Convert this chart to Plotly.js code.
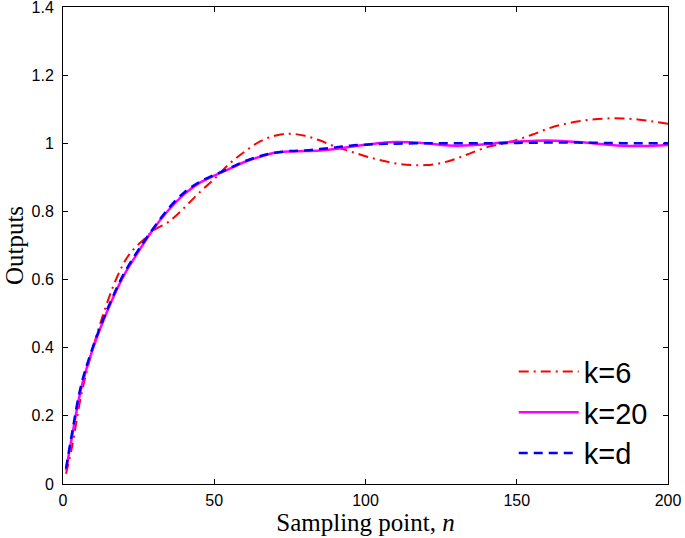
<!DOCTYPE html>
<html>
<head>
<meta charset="utf-8">
<script src="https://cdn.plot.ly/plotly-3.0.1.min.js"></script>
<style>html,body{margin:0;padding:0;background:#fff;}#chart{width:685px;height:538px;}</style>
</head>
<body>
<div id="chart"></div>
<script>
// Sampling points and outputs
const nK6 = [1, 3, 6, 9, 13, 18, 22, 27, 30, 35, 40, 45, 50, 55, 60, 65, 70, 75, 80, 85, 90, 95, 100, 105, 110, 115, 120, 125, 130, 135, 140, 145, 150, 155, 160, 165, 170, 175, 180, 185, 190, 195, 200];
const yK6 = [0.03, 0.11, 0.26, 0.37, 0.49, 0.61, 0.675, 0.72, 0.745, 0.77, 0.81, 0.855, 0.895, 0.94, 0.975, 1.005, 1.022, 1.028, 1.022, 1.008, 0.99, 0.976, 0.962, 0.95, 0.941, 0.936, 0.936, 0.942, 0.955, 0.972, 0.988, 0.998, 1.01, 1.025, 1.042, 1.055, 1.064, 1.07, 1.073, 1.073, 1.07, 1.064, 1.057];

const nK20 = [1, 3, 6, 10, 15, 20, 25, 30, 35, 40, 45, 50, 55, 60, 65, 70, 75, 80, 85, 90, 95, 100, 105, 110, 115, 120, 125, 130, 135, 140, 145, 150, 155, 160, 165, 170, 175, 180, 185, 190, 195, 200];
const yK20 = [0.04, 0.14, 0.28, 0.40, 0.515, 0.61, 0.683, 0.75, 0.805, 0.85, 0.883, 0.905, 0.925, 0.945, 0.96, 0.972, 0.976, 0.977, 0.979, 0.983, 0.99, 0.996, 1.001, 1.004, 1.003, 1.0, 0.995, 0.993, 0.994, 0.997, 1.002, 1.005, 1.007, 1.008, 1.007, 1.004, 1.0, 0.996, 0.993, 0.992, 0.993, 0.995];

const nKd = [1, 3, 6, 10, 15, 20, 25, 30, 35, 40, 45, 50, 55, 60, 65, 70, 75, 80, 85, 90, 95, 100, 105, 110, 120, 130, 140, 150, 160, 170, 180, 190, 200];
const yKd = [0.045, 0.15, 0.29, 0.405, 0.52, 0.615, 0.688, 0.752, 0.81, 0.855, 0.886, 0.907, 0.927, 0.947, 0.962, 0.972, 0.977, 0.979, 0.983, 0.988, 0.993, 0.996, 0.998, 0.999, 1.0, 1.0, 1.0, 1.001, 1.002, 1.002, 1.001, 1.0, 1.0];

const seriesNames = ['k=6', 'k=20', 'k=d'];
const xTicks = [0, 50, 100, 150, 200];
const yTicks = [0, 0.2, 0.4, 0.6, 0.8, 1, 1.2, 1.4];
const yTickText = ['0', '0.2', '0.4', '0.6', '0.8', '1', '1.2', '1.4'];

const traces = [
  {x: nK6, y: yK6, name: seriesNames[0], mode: 'lines',
   line: {color: '#ff0000', width: 2, dash: '10px,5px,2px,5px', shape: 'spline', smoothing: 1}},
  {x: nK20, y: yK20, name: seriesNames[1], mode: 'lines',
   line: {color: '#ff00ff', width: 2.5, shape: 'spline', smoothing: 1}},
  {x: nKd, y: yKd, name: seriesNames[2], mode: 'lines',
   line: {color: '#0000ff', width: 2.5, dash: '9px,6px', shape: 'spline', smoothing: 1}}
];

const axisCommon = {
  showgrid: false, zeroline: false, showline: true, linecolor: '#000', linewidth: 1,
  mirror: 'ticks', ticks: 'inside', ticklen: 5, tickcolor: '#000', tickwidth: 1,
  ticklabeloverflow: 'allow',
  tickfont: {family: 'Liberation Sans, Arial, sans-serif', size: 16, color: '#000'}
};

const layout = {
  width: 685, height: 538,
  margin: {l: 63, r: 17, t: 7, b: 54},
  paper_bgcolor: '#fff', plot_bgcolor: '#fff',
  showlegend: true,
  legend: {
    x: 0.745, y: 0.289, xanchor: 'left', yanchor: 'top',
    bgcolor: 'rgba(0,0,0,0)', borderwidth: 0,
    font: {family: 'Liberation Sans, Arial, sans-serif', size: 29, color: '#000'},
    itemwidth: 60
  },
  xaxis: Object.assign({}, axisCommon, {
    range: [0, 200], tickvals: xTicks, ticklabelstandoff: 2,
    title: {text: 'Sampling point, <i>n</i>', standoff: 1,
      font: {family: 'Liberation Serif, Times New Roman, serif', size: 25, color: '#000'}}
  }),
  yaxis: Object.assign({}, axisCommon, {
    range: [0, 1.4], tickvals: yTicks, ticktext: yTickText, ticklabelstandoff: 5,
    title: {text: 'Outputs', standoff: 0,
      font: {family: 'Liberation Serif, Times New Roman, serif', size: 25, color: '#000'}}
  })
};

Plotly.newPlot('chart', traces, layout, {displayModeBar: false, staticPlot: true});
</script>
</body>
</html>
